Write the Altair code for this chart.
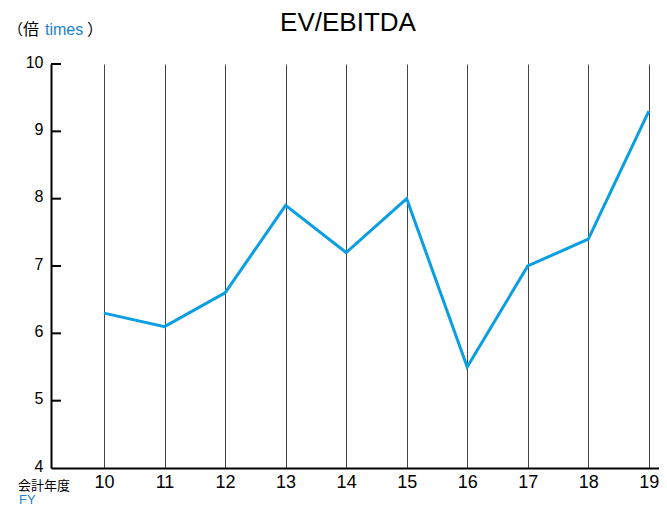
import altair as alt
import pandas as pd

years = [10, 11, 12, 13, 14, 15, 16, 17, 18, 19]
values = [6.3, 6.1, 6.6, 7.9, 7.2, 8.0, 5.5, 7.0, 7.4, 9.3]
y_ticks = [4, 5, 6, 7, 8, 9, 10]

title_text = "EV/EBITDA"
unit_open = "（"
unit_jp = "倍"
unit_en = "times"
unit_close = "）"
xlabel_jp = "会計年度"
xlabel_en = "FY"

LINE_BLUE = "#0a9ee2"
TEXT_BLUE = "#1a82d4"
FONT = "Liberation Sans"
CJK = "Noto Sans CJK JP"

df = pd.DataFrame({"year": years, "value": values})
ticks_df = pd.DataFrame({"v": y_ticks[1:]})

xscale = alt.Scale(domain=[9.125, 19.168], nice=False, zero=False)
yscale = alt.Scale(domain=[4, 10], nice=False, zero=False)

line = alt.Chart(df).mark_line(color=LINE_BLUE, strokeWidth=3).encode(
    x=alt.X("year:Q", scale=xscale,
            axis=alt.Axis(values=years, title=None, grid=True, gridColor="#444444",
                          gridWidth=1, ticks=False, domainColor="black", domainWidth=2,
                          labelFontSize=18, labelPadding=5, labelColor="black",
                          labelFont=FONT, format="d")),
    y=alt.Y("value:Q", scale=yscale,
            axis=alt.Axis(values=y_ticks, title=None, grid=False, ticks=False,
                          domainColor="black", domainWidth=2, labelFontSize=16,
                          labelPadding=8, labelOffset=-2, labelColor="black",
                          labelFont=FONT, format="d")),
)

yticks = alt.Chart(ticks_df).mark_rule(color="black", strokeWidth=2).encode(
    y=alt.Y("v:Q", scale=yscale),
    x=alt.value(0),
    x2=alt.value(10),
)

def label(text, x, y, color="black", size=16, font=FONT, align="left", baseline="alphabetic"):
    return alt.Chart(pd.DataFrame({"t": [text]})).mark_text(
        align=align, baseline=baseline, fontSize=size, font=font, color=color
    ).encode(text="t:N", x=alt.value(x), y=alt.value(y))

texts = [
    label(title_text, 297, -33, size=26, align="center"),
    label(unit_open, -43, -29, font=CJK, size=15),
    label(unit_jp, -28, -29, font=CJK),
    label(unit_en, -6, -29, color=TEXT_BLUE, font=FONT),
    label(unit_close, 36, -29, font=CJK),
    label(xlabel_jp, -33, 421.5, size=13, font=CJK, baseline="middle"),
    label(xlabel_en, -32, 440, size=13, color=TEXT_BLUE),
]

chart = alt.layer(line, yticks, *texts).properties(
    width=608, height=404,
    autosize=alt.AutoSizeParams(type="none"),
    padding={"left": 43, "top": 56, "right": 0, "bottom": 38},
).configure_view(stroke=None)

chart.save("out.html", embed_options={"renderer": "svg", "actions": False})
